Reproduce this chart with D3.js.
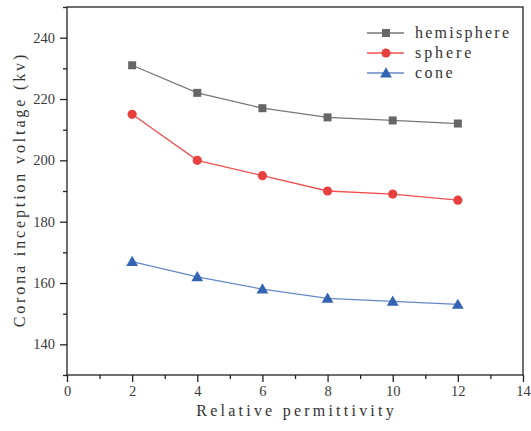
<!DOCTYPE html>
<html><head><meta charset="utf-8">
<script src="https://cdn.jsdelivr.net/npm/d3@7"></script>
<style>body{margin:0;background:#fff}svg{display:block}</style>
</head><body>
<svg id="c" width="531" height="431"></svg>
<script>
const xValues = [2, 4, 6, 8, 10, 12];
const hemisphere = [231, 222, 217, 214, 213, 212];
const sphere = [215, 200, 195, 190, 189, 187];
const cone = [167, 162, 158, 155, 154, 153];
const seriesNames = ["hemisphere", "sphere", "cone"];
const xTicks = [0, 2, 4, 6, 8, 10, 12, 14];
const yTicks = [140, 160, 180, 200, 220, 240];

const colors = {hemisphere: "#666666", sphere: "#e8403f", cone: "#3464b2"};
const lineColors = {hemisphere: "#777777", sphere: "#f05050", cone: "#6688c8"};
const symbols = {hemisphere: d3.symbolSquare, sphere: d3.symbolCircle, cone: d3.symbolTriangle};
const symSize = {hemisphere: 64, sphere: 66, cone: 60};
const dataMap = {hemisphere, sphere, cone};

const svg = d3.select("#c");
const L = 67, R = 523, T = 7, B = 375;
const x = d3.scaleLinear().domain([0, 14]).range([L, R]);
const y = d3.scaleLinear().domain([130, 250]).range([B, T]);
const font = "'Liberation Serif', serif";
const charW = 9.4; // monospaced advance of the reference font

// frame
svg.append("rect").attr("x", L).attr("y", T).attr("width", R - L).attr("height", B - T)
  .attr("fill", "none").attr("stroke", "#222").attr("stroke-width", 1.3);

// x axis
const xAxis = svg.append("g").attr("transform", `translate(0,${B})`)
  .call(d3.axisBottom(x).tickValues(xTicks).tickSize(7).tickPadding(4).tickFormat(d3.format("d")));
const xMinor = svg.append("g").attr("transform", `translate(0,${B})`)
  .call(d3.axisBottom(x).tickValues(d3.range(1, 14, 2)).tickSize(4).tickFormat(""));
// y axis
const yAxis = svg.append("g").attr("transform", `translate(${L},0)`)
  .call(d3.axisLeft(y).tickValues(yTicks).tickSize(7).tickPadding(5).tickFormat(d3.format("d")));
const yMinor = svg.append("g").attr("transform", `translate(${L},0)`)
  .call(d3.axisLeft(y).tickValues([130, 150, 170, 190, 210, 230, 250]).tickSize(4).tickFormat(""));
[xAxis, xMinor, yAxis, yMinor].forEach(g => {
  g.select(".domain").remove();
  g.selectAll("line").attr("stroke", "#222").attr("stroke-width", 1.3);
  g.selectAll("text").attr("font-family", font).attr("font-size", 14.5).attr("fill", "#3a3a3a");
});

function monoText(sel, str) {
  sel.attr("font-family", font).attr("font-size", 16).attr("fill", "#333")
    .attr("textLength", str.length * charW).attr("lengthAdjust", "spacing").text(str);
  return sel;
}

// titles
monoText(svg.append("text").attr("x", (L + R) / 2).attr("y", 416).attr("text-anchor", "middle"),
  "Relative permittivity");
monoText(svg.append("text").attr("transform", `translate(25,${(T + B) / 2}) rotate(-90)`).attr("text-anchor", "middle"),
  "Corona inception voltage (kv)");

// series
const line = d3.line().x((d, i) => x(xValues[i])).y(d => y(d));
seriesNames.forEach(name => {
  const vals = dataMap[name];
  svg.append("path").datum(vals).attr("d", line).attr("fill", "none")
    .attr("stroke", lineColors[name]).attr("stroke-width", 1.3);
  svg.selectAll(null).data(vals).enter().append("path")
    .attr("transform", (d, i) => `translate(${x(xValues[i])},${y(d) + (name === "cone" ? 1 : 0)})`)
    .attr("d", d3.symbol().type(symbols[name]).size(symSize[name]))
    .attr("fill", colors[name]);
});

// legend
seriesNames.forEach((name, i) => {
  const yy = 33 + i * 20;
  const g = svg.append("g");
  g.append("line").attr("x1", 367).attr("x2", 404).attr("y1", yy).attr("y2", yy)
    .attr("stroke", lineColors[name]).attr("stroke-width", 1.3);
  g.append("path").attr("transform", `translate(386,${yy + (name === "cone" ? 1 : 0)})`)
    .attr("d", d3.symbol().type(symbols[name]).size(symSize[name])).attr("fill", colors[name]);
  monoText(g.append("text").attr("x", 415).attr("y", yy + 5), name);
});
</script>
</body></html>
